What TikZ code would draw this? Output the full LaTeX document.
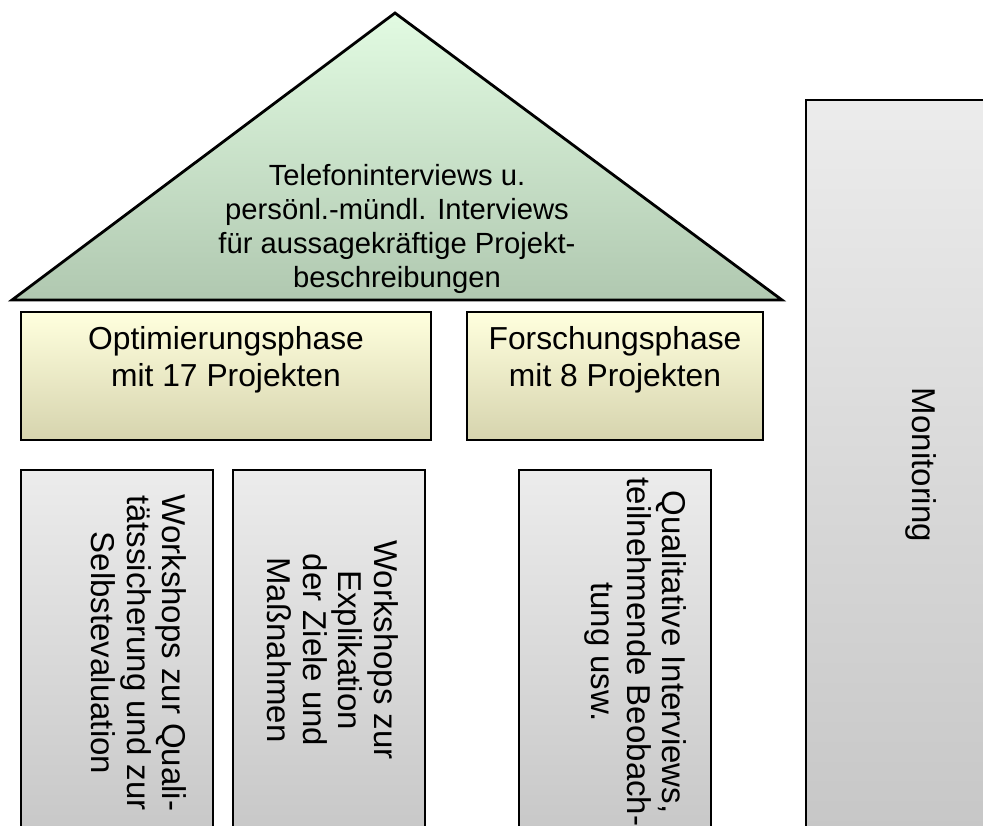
\documentclass[tikz,border=0pt]{standalone}
\usepackage{fontspec}
\setmainfont{Liberation Sans}
\definecolor{roofTop}{RGB}{226,251,226}
\definecolor{roofBot}{RGB}{176,200,176}
\definecolor{phaseTop}{RGB}{255,255,222}
\definecolor{phaseBot}{RGB}{214,212,174}
\definecolor{pillarTop}{RGB}{236,236,236}
\definecolor{pillarBot}{RGB}{198,198,198}

\begin{document}
\begin{tikzpicture}[x=1pt,y=-1pt,
    roof/.style={draw=black, line width=2.8pt, line join=miter, top color=roofTop, bottom color=roofBot},
    phase/.style={draw=black, line width=2.8pt, top color=phaseTop, bottom color=phaseBot},
    pillar/.style={draw=black, line width=2.8pt, top color=pillarTop, bottom color=pillarBot},
    roof text/.style={align=center, inner sep=0pt, font=\fontsize{29.2}{34}\selectfont},
    phase text/.style={align=center, inner sep=0pt, font=\fontsize{31.8}{37}\selectfont},
    pillar text/.style={rotate=-90, align=center, inner sep=0pt, font=\fontsize{33}{35.5}\selectfont}]
    \path[use as bounding box, clip] (0,0) rectangle (983,825);

    \draw[roof] (12,300) -- (395,13) -- (782,300) -- cycle;
    \node[roof text] (survey) at (397,229) {Telefoninterviews u.\\persönl.-mündl. Interviews\\für aussagekräftige Projekt-\\beschreibungen};

    \draw[phase] (21,312) rectangle (431,440);
    \node[phase text] (optim) at (226,360) {Optimierungsphase\\mit 17 Projekten};
    \draw[phase] (467,312) rectangle (763,440);
    \node[phase text] (research) at (615,360) {Forschungsphase\\mit 8 Projekten};

    \draw[pillar] (21,470) rectangle (213,850);
    \node[pillar text] (quality) at (139,653) {Workshops zur Quali-\\tätssicherung und zur\\Selbstevaluation};
    \draw[pillar] (233,470) rectangle (425,850);
    \node[pillar text] (goals) at (333,650) {Workshops zur\\Explikation\\der Ziele und\\Maßnahmen};
    \draw[pillar] (519,470) rectangle (711,850);
    \node[pillar text] (qualint) at (636,652) {Qualitative Interviews,\\teilnehmende Beobach-\\tung usw.};

    \draw[pillar] (806,100) rectangle (1040,850);
    \node[pillar text] (monitor) at (921,465) {Monitoring};
  \end{tikzpicture}
\end{document}
